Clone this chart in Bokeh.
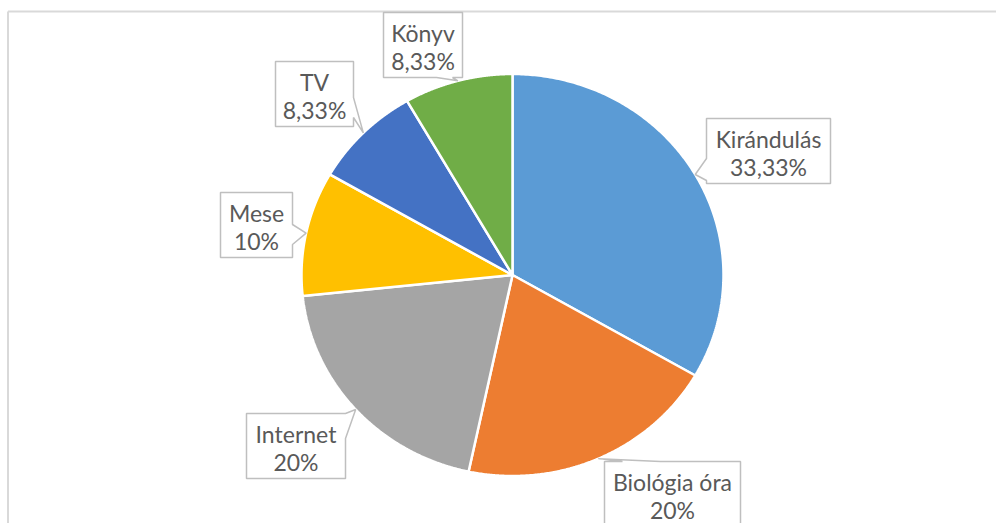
import numpy as np
from bokeh.plotting import figure
from bokeh.models import ColumnDataSource, Range1d
from bokeh.core.properties import value
from bokeh.embed import file_html
from bokeh.resources import INLINE

# ---- data ----
categories = ["Kirándulás", "Biológia óra", "Internet", "Mese", "TV", "Könyv"]
percents = [33.33, 20, 20, 10, 8.33, 8.33]
colors = ["#5B9BD5", "#ED7D31", "#A5A5A5", "#FFC000", "#4472C4", "#70AD47"]

# ---- layout (screen pixel coordinates) ----
CX, CY, RX, RY = 512, 274.5, 211, 201
box_left = [706, 604, 246, 220, 275, 383]
box_top = [118, 461, 413, 192, 61, 12]
box_w = [124, 136, 99, 72, 78, 79]
BOX_H = 65
tail_side = ["left", "top", "right", "right", "right", "bottom"]
tail_base = [(158, 180), (622, 660), (413, 438), (224, 244), (97, 117), (436, 452)]

p = figure(width=996, height=523, output_backend="svg", toolbar_location=None,
           x_range=Range1d(0, 996), y_range=Range1d(523, 0),
           x_axis_location=None, y_axis_location=None, min_border=0)
p.grid.visible = False
p.outline_line_color = None
p.background_fill_color = "white"
p.border_fill_color = "white"

# chart frame (top and left edges visible)
p.segment(x0=[7.5, 7.5], y0=[11, 11], x1=[1004, 7.5], y1=[11, 531],
          line_color="#D9D9D9", line_width=2)

# ---- pie slices (ellipse, clockwise from 12 o'clock) ----
frac = np.array(percents, dtype=float) / np.sum(percents)
ends = np.cumsum(frac) * 2 * np.pi
starts = np.concatenate([[0.0], ends[:-1]])
xs, ys = [], []
for a0, a1 in zip(starts, ends):
    t = np.linspace(a0, a1, 200)
    xs.append([CX] + list(CX + RX * np.sin(t)))
    ys.append([CY] + list(CY - RY * np.cos(t)))
p.patches(xs=xs, ys=ys, fill_color=colors, line_color="white", line_width=2.5)

# ---- callouts ----
mids = (starts + ends) / 2
tips = [(CX + RX * np.sin(m), CY - RY * np.cos(m)) for m in mids]


def callout(x0, y0, x1, y1, side, b, tip):
    pts = [(x0, y0)]
    if side == "top":
        pts += [(b[0], y0), tip, (b[1], y0)]
    pts.append((x1, y0))
    if side == "right":
        pts += [(x1, b[0]), tip, (x1, b[1])]
    pts.append((x1, y1))
    if side == "bottom":
        pts += [(b[1], y1), tip, (b[0], y1)]
    pts.append((x0, y1))
    if side == "left":
        pts += [(x0, b[1]), tip, (x0, b[0])]
    return [q[0] for q in pts], [q[1] for q in pts]


cxs, cys = [], []
for i in range(len(categories)):
    x0, y0 = box_left[i], box_top[i]
    x1, y1 = x0 + box_w[i], y0 + BOX_H
    a, b = callout(x0, y0, x1, y1, tail_side[i], tail_base[i], tips[i])
    cxs.append(a)
    cys.append(b)
p.patches(xs=cxs, ys=cys, fill_color="white", line_color="#BFBFBF", line_width=1.5)


def fmt(v):
    return ("%g" % v).replace(".", ",") + "%"


tx = [box_left[i] + box_w[i] / 2 for i in range(len(categories))]
src1 = ColumnDataSource(dict(x=tx, y=[t + 20 for t in box_top], t=categories))
src2 = ColumnDataSource(dict(x=tx, y=[t + 48 for t in box_top], t=[fmt(v) for v in percents]))
for src in (src1, src2):
    p.text(x="x", y="y", text="t", source=src, text_align="center",
           text_baseline="middle", text_font=value("Lato"),
           text_font_size="23px", text_color="#595959")

open("out.html", "w").write(file_html(p, INLINE))
